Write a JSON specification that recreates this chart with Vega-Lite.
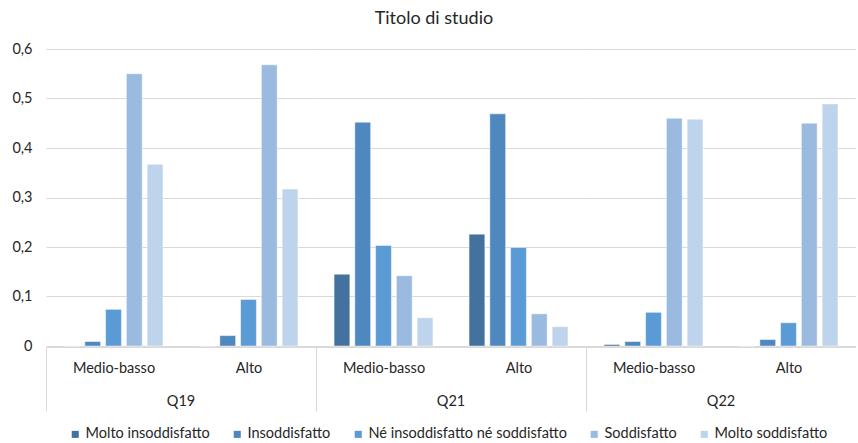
{
  "$schema": "https://vega.github.io/schema/vega-lite/v6.json",
  "padding": {"left": 11, "top": 10, "right": 0, "bottom": 0},
  "title": {
    "text": "Titolo di studio",
    "anchor": "middle",
    "font": "Lato",
    "fontSize": 18,
    "fontWeight": "normal",
    "color": "#262626",
    "offset": 13
  },
  "data": {
    "values": [
      {"q": "Q19", "livello": "Medio-basso", "giudizio": "Molto insoddisfatto", "valore": 0},
      {"q": "Q19", "livello": "Medio-basso", "giudizio": "Insoddisfatto", "valore": 0.009},
      {"q": "Q19", "livello": "Medio-basso", "giudizio": "Né insoddisfatto né soddisfatto", "valore": 0.074},
      {"q": "Q19", "livello": "Medio-basso", "giudizio": "Soddisfatto", "valore": 0.55},
      {"q": "Q19", "livello": "Medio-basso", "giudizio": "Molto soddisfatto", "valore": 0.367},
      {"q": "Q19", "livello": "Alto", "giudizio": "Molto insoddisfatto", "valore": 0},
      {"q": "Q19", "livello": "Alto", "giudizio": "Insoddisfatto", "valore": 0.021},
      {"q": "Q19", "livello": "Alto", "giudizio": "Né insoddisfatto né soddisfatto", "valore": 0.094},
      {"q": "Q19", "livello": "Alto", "giudizio": "Soddisfatto", "valore": 0.568},
      {"q": "Q19", "livello": "Alto", "giudizio": "Molto soddisfatto", "valore": 0.317},
      {"q": "Q21", "livello": "Medio-basso", "giudizio": "Molto insoddisfatto", "valore": 0.145},
      {"q": "Q21", "livello": "Medio-basso", "giudizio": "Insoddisfatto", "valore": 0.452},
      {"q": "Q21", "livello": "Medio-basso", "giudizio": "Né insoddisfatto né soddisfatto", "valore": 0.203},
      {"q": "Q21", "livello": "Medio-basso", "giudizio": "Soddisfatto", "valore": 0.142},
      {"q": "Q21", "livello": "Medio-basso", "giudizio": "Molto soddisfatto", "valore": 0.057},
      {"q": "Q21", "livello": "Alto", "giudizio": "Molto insoddisfatto", "valore": 0.226},
      {"q": "Q21", "livello": "Alto", "giudizio": "Insoddisfatto", "valore": 0.469},
      {"q": "Q21", "livello": "Alto", "giudizio": "Né insoddisfatto né soddisfatto", "valore": 0.199},
      {"q": "Q21", "livello": "Alto", "giudizio": "Soddisfatto", "valore": 0.065},
      {"q": "Q21", "livello": "Alto", "giudizio": "Molto soddisfatto", "valore": 0.039},
      {"q": "Q22", "livello": "Medio-basso", "giudizio": "Molto insoddisfatto", "valore": 0.003},
      {"q": "Q22", "livello": "Medio-basso", "giudizio": "Insoddisfatto", "valore": 0.009},
      {"q": "Q22", "livello": "Medio-basso", "giudizio": "Né insoddisfatto né soddisfatto", "valore": 0.068},
      {"q": "Q22", "livello": "Medio-basso", "giudizio": "Soddisfatto", "valore": 0.46},
      {"q": "Q22", "livello": "Medio-basso", "giudizio": "Molto soddisfatto", "valore": 0.458},
      {"q": "Q22", "livello": "Alto", "giudizio": "Molto insoddisfatto", "valore": 0},
      {"q": "Q22", "livello": "Alto", "giudizio": "Insoddisfatto", "valore": 0.013},
      {"q": "Q22", "livello": "Alto", "giudizio": "Né insoddisfatto né soddisfatto", "valore": 0.047},
      {"q": "Q22", "livello": "Alto", "giudizio": "Soddisfatto", "valore": 0.45},
      {"q": "Q22", "livello": "Alto", "giudizio": "Molto soddisfatto", "valore": 0.489}
    ]
  },
  "facet": {
    "column": {
      "field": "q",
      "type": "nominal",
      "sort": ["Q19", "Q21", "Q22"],
      "header": {
        "title": null,
        "labelOrient": "bottom",
        "labelFont": "Lato",
        "labelFontSize": 14.5,
        "labelColor": "#262626",
        "labelPadding": -17
      }
    }
  },
  "spacing": 0,
  "spec": {
    "width": 270,
    "height": 297,
    "mark": {"type": "bar", "stroke": "#ffffff", "strokeOpacity": 0.45, "strokeWidth": 1},
    "encoding": {
      "x": {
        "field": "livello",
        "type": "nominal",
        "sort": ["Medio-basso", "Alto"],
        "scale": {"paddingInner": 0, "paddingOuter": 0},
        "axis": {
          "title": null,
          "labelAngle": 0,
          "labelFont": "Lato",
          "labelFontSize": 14.5,
          "labelColor": "#262626",
          "labelPadding": -50,
          "domainColor": "#d9d9d9",
          "tickBand": "extent",
          "tickSize": 64,
          "tickColor": "#d9d9d9",
          "tickOpacity": {"condition": {"test": "datum.value !== 'Medio-basso' && datum.value !== 'Alto'", "value": 1}, "value": 0}
        }
      },
      "xOffset": {
        "field": "giudizio",
        "type": "nominal",
        "sort": ["Molto insoddisfatto", "Insoddisfatto", "Né insoddisfatto né soddisfatto", "Soddisfatto", "Molto soddisfatto"],
        "scale": {"paddingInner": 0.24, "paddingOuter": 0.87}
      },
      "y": {
        "field": "valore",
        "type": "quantitative",
        "scale": {"domain": [0, 0.6], "nice": false},
        "axis": {
          "title": null,
          "values": [0, 0.1, 0.2, 0.3, 0.4, 0.5, 0.6],
          "labelExpr": "datum.value == 0 ? '0' : replace(format(datum.value, '.1f'), '.', ',')",
          "labelFont": "Lato",
          "labelFontSize": 14.5,
          "labelColor": "#262626",
          "labelPadding": 14,
          "domain": false,
          "ticks": false,
          "gridColor": "#d9d9d9"
        }
      },
      "color": {
        "field": "giudizio",
        "type": "nominal",
        "scale": {
          "domain": ["Molto insoddisfatto", "Insoddisfatto", "Né insoddisfatto né soddisfatto", "Soddisfatto", "Molto soddisfatto"],
          "range": ["#44729E", "#4E88BF", "#5B9BD5", "#9BBAE0", "#BED3EC"]
        },
        "legend": {
          "title": null,
          "orient": "none",
          "direction": "horizontal",
          "legendX": 22,
          "legendY": 378,
          "symbolType": "square",
          "symbolSize": 50,
          "symbolStrokeWidth": 0,
          "labelFont": "Lato",
          "labelFontSize": 14.5,
          "labelColor": "#262626",
          "labelLimit": 0,
          "labelOffset": 3,
          "columnPadding": 20
        }
      }
    }
  },
  "config": {
    "view": {"stroke": null},
    "axis": {"gridWidth": 1}
  }
}
